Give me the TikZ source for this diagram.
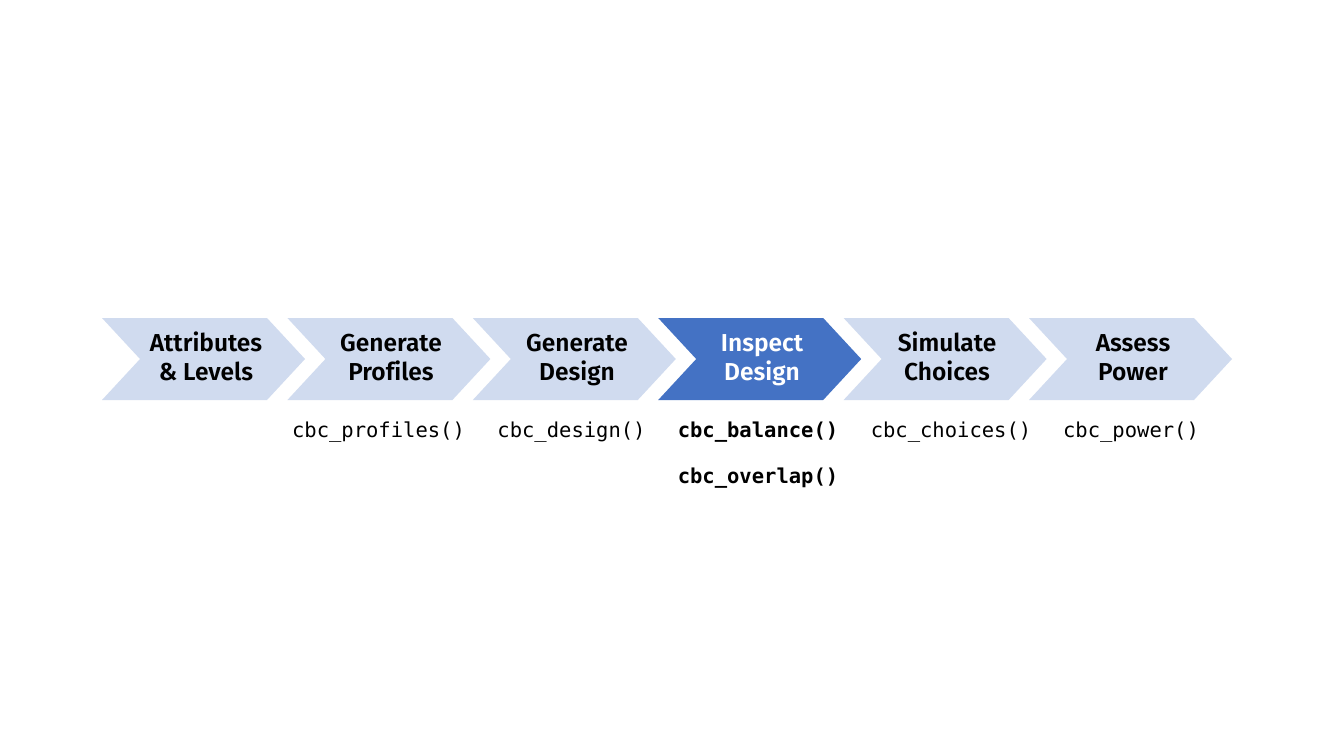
\documentclass[tikz,border=0pt]{standalone}
\usepackage{fontspec}
\setmainfont{Fira Sans}
\newfontfamily\chevfont{Fira Sans SemiBold}[Ligatures=NoCommon]
\newfontfamily\codefont{DejaVu Sans Mono}
\definecolor{chevlight}{HTML}{D0DBEF}
\definecolor{chevdark}{HTML}{4472C4}
\tikzset{
  chevlab/.style={font=\chevfont\fontsize{24.5}{29}\selectfont, align=center, text=black, inner sep=0pt, anchor=base},
  codelab/.style={font=\codefont\fontsize{20.5}{24}\selectfont, text=black, inner sep=0pt, anchor=base},
  codebold/.style={codelab, font=\codefont\bfseries\fontsize{20.5}{24}\selectfont}
}
\newcommand{\chev}[2]{%
  \fill[#2] (#1,318) -- ({#1+165},318) -- ({#1+203},359) -- ({#1+165},400) -- (#1,400) -- ({#1+38},359) -- cycle;}
\begin{document}
\begin{tikzpicture}[x=1pt,y=-1pt]
\useasboundingbox[fill=white] (0,0) rectangle (1333,750);
\chev{102}{chevlight}
\chev{287.4}{chevlight}
\chev{472.8}{chevlight}
\chev{658.2}{chevdark}
\chev{843.6}{chevlight}
\chev{1029}{chevlight}
\node[chevlab] (c1) at (206,380) {Attributes\\\& Levels};
\node[chevlab] (c2) at (391,380) {Generate\\Profiles};
\node[chevlab] (c3) at (577,380) {Generate\\Design};
\node[chevlab, text=white] (c4) at (762,380) {Inspect\\Design};
\node[chevlab] (c5) at (947,380) {Simulate\\Choices};
\node[chevlab] (c6) at (1133,380) {Assess\\Power};
\node[codelab] (f2) at (378.5,437) {cbc\_profiles()};
\node[codelab] (f3) at (571.5,437) {cbc\_design()};
\node[codebold] (f4a) at (758,437) {cbc\_balance()};
\node[codebold] (f4b) at (758,483) {cbc\_overlap()};
\node[codelab] (f5) at (951,437) {cbc\_choices()};
\node[codelab] (f6) at (1131,437) {cbc\_power()};
\end{tikzpicture}
\end{document}
